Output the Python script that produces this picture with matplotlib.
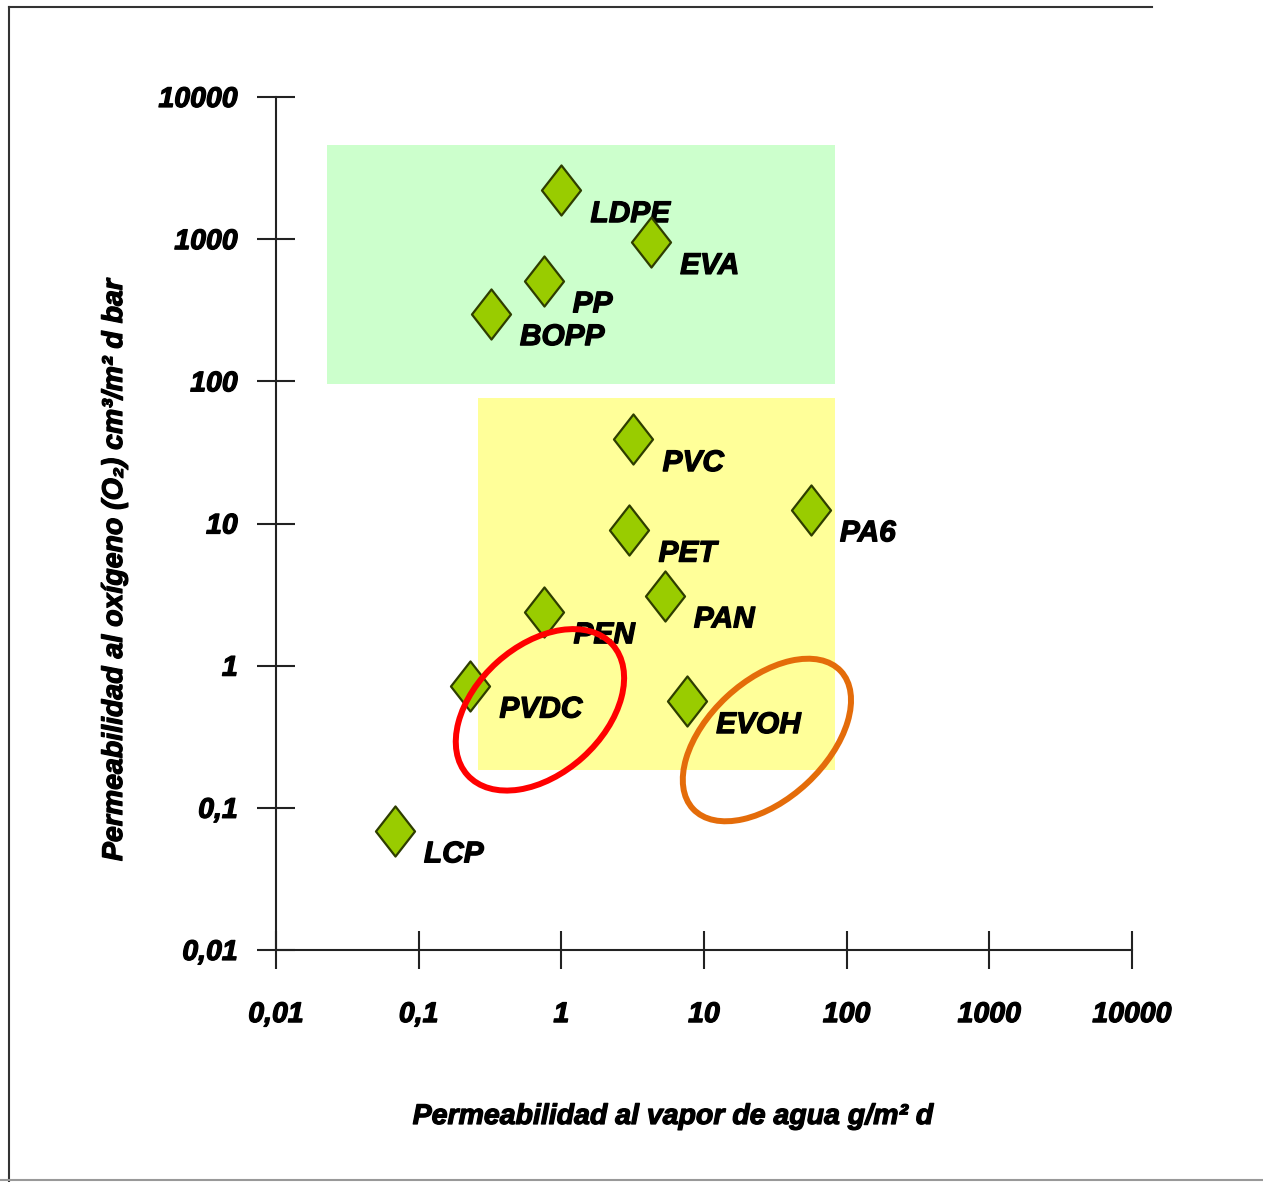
import matplotlib
matplotlib.use("Agg")
import matplotlib.pyplot as plt
import matplotlib.patheffects as pe
import matplotlib.transforms as mtransforms
from matplotlib.lines import Line2D
from matplotlib.patches import Ellipse, Rectangle
from matplotlib.path import Path

plt.rcParams["font.family"] = ["Liberation Sans", "DejaVu Sans"]

# materials: water vapour permeability (g/m2 d) vs O2 permeability (cm3/m2 d bar)
materials = ["LDPE", "EVA", "PP", "BOPP", "PVC", "PET", "PA6", "PAN", "PEN", "PVDC", "EVOH", "LCP"]
wvtr = [1.0, 4.25, 0.75, 0.32, 3.2, 3.0, 56, 5.3, 0.76, 0.23, 7.6, 0.068]
o2tr = [2200, 950, 510, 300, 39, 9.0, 12.5, 3.1, 2.4, 0.72, 0.56, 0.069]

ticks = [0.01, 0.1, 1, 10, 100, 1000, 10000]
tick_labels = ["0,01", "0,1", "1", "10", "100", "1000", "10000"]

# shaded zones (x0, x1, y0, y1)
zone_high = (0.0227, 82.7, 96, 4600)
zone_mid = (0.26, 82.7, 0.185, 76)

# highlight ellipses: centre in data units, size in inches, angle
highlights = [
    ((0.708, 0.489), 1.95, 1.28, 42, "#ff0000"),
    ((27.6, 0.30), 2.02, 1.18, 43, "#e46c0a"),
]

heavy = [pe.withStroke(linewidth=0.9, foreground="black")]
bold_it = dict(fontweight="bold", fontstyle="italic", path_effects=heavy)

fig = plt.figure(figsize=(12.63, 11.82), dpi=100)
ax = fig.add_axes([276 / 1263, 1 - 950 / 1182, (1132 - 276) / 1263, (950 - 97) / 1182])
ax.set_xscale("log")
ax.set_yscale("log")
ax.set_xlim(0.01, 10000)
ax.set_ylim(0.01, 10000)

for (x0, x1, y0, y1), col in [(zone_high, "#ccffcc"), (zone_mid, "#ffff99")]:
    ax.add_patch(Rectangle((x0, y0), x1 - x0, y1 - y0, facecolor=col, edgecolor="none", zorder=1))

diamond = Path([(0, 1), (0.78, 0), (0, -1), (-0.78, 0), (0, 1)],
               [Path.MOVETO, Path.LINETO, Path.LINETO, Path.LINETO, Path.CLOSEPOLY])
ax.scatter(wvtr, o2tr, marker=diamond, s=1300, facecolor="#99cc00",
           edgecolor="#2e3d00", linewidth=1.6, zorder=4)

for name, x, y in zip(materials, wvtr, o2tr):
    ax.annotate(name, (x, y), xytext=(21, -17), textcoords="offset points",
                ha="left", va="center", fontsize=21.5, zorder=3, **bold_it)

for (cx, cy), w, h, ang, col in highlights:
    tr = fig.dpi_scale_trans + mtransforms.ScaledTranslation(cx, cy, ax.transData)
    ax.add_patch(Ellipse((0, 0), w, h, angle=ang, transform=tr, fill=False,
                         edgecolor=col, linewidth=4.3, zorder=5))

ax.spines[["top", "right"]].set_visible(False)
for s in ["left", "bottom"]:
    ax.spines[s].set_linewidth(1.5)
    ax.spines[s].set_color("#222222")

ax.set_xticks(ticks)
ax.set_xticklabels(tick_labels)
ax.set_yticks(ticks)
ax.set_yticklabels(tick_labels)
ax.minorticks_off()
ax.tick_params(direction="inout", length=27, width=1.5, color="#222222", labelsize=20.5)
ax.tick_params(axis="x", pad=24)
ax.tick_params(axis="y", pad=14)
for lab in ax.get_xticklabels() + ax.get_yticklabels():
    lab.set_fontweight("bold")
    lab.set_fontstyle("italic")
    lab.set_path_effects(heavy)

fig.text(673 / 1263, 1 - 1117 / 1182, "Permeabilidad al vapor de agua g/m² d",
         ha="center", va="center", fontsize=20.5, **bold_it)
fig.text(115 / 1263, 1 - 570 / 1182, "Permeabilidad al oxígeno (O₂) cm³/m² d bar",
         ha="center", va="center", rotation=90, fontsize=20.5, **bold_it)

# page frame
fig.add_artist(Line2D([9 / 1263, 9 / 1263], [0, 1 - 7 / 1182], color="#333333", lw=1.5))
fig.add_artist(Line2D([9 / 1263, 1152 / 1263], [1 - 7 / 1182, 1 - 7 / 1182], color="#333333", lw=1.5))
fig.add_artist(Line2D([0, 1], [1 - 1180 / 1182, 1 - 1180 / 1182], color="#999999", lw=1.5))

fig.savefig("out.png", dpi=100)
